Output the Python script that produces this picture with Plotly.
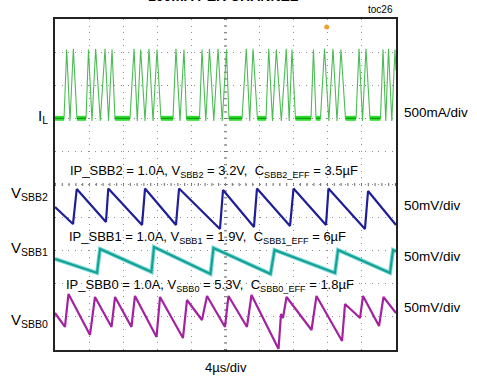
import plotly.graph_objects as go

# ---------------- data ----------------
# time in microseconds (4 us/div, 10 div)
il_time = [0.00, 1.06, 1.37, 1.76, 2.15, 2.58, 3.64, 3.93, 4.34, 4.77,
           5.31, 5.87, 6.28, 6.69, 7.04, 8.80, 9.27, 9.65, 10.05, 10.56,
           11.03, 11.50, 11.97, 12.43, 13.84, 14.19, 14.66, 15.13, 15.43, 16.95,
           17.24, 17.69, 18.12, 18.63, 19.12, 19.62, 20.12, 20.41, 21.94, 22.44,
           22.84, 23.23, 23.75, 24.75, 25.07, 25.51, 25.96, 26.55, 27.13, 27.47,
           27.80, 28.21, 30.03, 30.32, 30.62, 31.14, 31.61, 32.12, 32.61, 33.08,
           33.55, 34.08, 35.31, 35.66, 36.07, 36.48, 36.95, 38.18, 38.48, 38.80,
           39.12, 39.51, 39.88, 40.00]
# inductor current in A (500 mA/div)
il_amp = [0.00, 0.00, 1.04, -0.04, 1.05, -0.01, 0.00, 1.04, -0.04, 1.05,
          -0.04, 1.05, -0.04, 1.04, -0.01, 0.00, 1.05, -0.04, 1.04, -0.04,
          1.05, -0.04, 1.04, -0.01, 0.00, 1.05, -0.04, 1.04, -0.01, 0.00,
          1.04, -0.04, 1.05, -0.04, 1.05, -0.04, 1.04, -0.01, 0.00, 1.05,
          -0.04, 1.05, -0.01, 0.00, 1.05, -0.04, 1.04, -0.04, 1.05, -0.04,
          1.04, -0.01, 0.00, 1.04, -0.01, 0.00, 1.05, -0.04, 1.05, -0.04,
          1.04, -0.01, 0.00, 1.05, -0.04, 1.05, -0.01, 0.00, 1.04, -0.04,
          1.05, -0.04, 1.04, 0.72]
# idle (flat) intervals of the inductor current, us
il_flat_start = [0.00, 2.58, 7.04, 12.43, 15.43, 20.41, 23.75, 28.21, 30.62, 34.08, 36.95]
il_flat_end = [1.06, 3.64, 8.80, 13.84, 16.95, 21.94, 24.75, 30.03, 31.14, 35.31, 38.18]

# output ripple voltages, mV (AC, 50 mV/div)
sbb2_time = [0.00, 2.11, 2.55, 5.98, 6.25, 10.21, 10.56, 14.19, 14.55, 19.35,
             19.71, 23.34, 23.69, 27.57, 27.98, 31.79, 32.08, 36.36, 36.72, 40.00]
sbb2_mv = [0.0, -25.7, 27.2, -22.7, 27.9, -27.2, 27.9, -27.2, 27.9, -33.2,
           25.7, -30.2, 27.9, -28.7, 27.9, -27.2, 27.9, -33.2, 24.2, -27.2]

sbb1_time = [0.00, 4.93, 5.28, 11.32, 11.61, 18.24, 18.59, 25.28, 25.75, 32.84,
             33.20, 39.30, 39.65, 40.00]
sbb1_mv = [3.0, -18.1, 18.1, -16.6, 21.1, -19.6, 19.6, -19.6, 16.6, -18.1,
           16.6, -18.1, 16.6, 14.3]

sbb0_time = [0.00, 1.17, 1.58, 4.11, 4.69, 6.63, 7.04, 8.97, 9.38, 11.91,
             12.32, 15.01, 15.48, 17.24, 17.83, 19.94, 20.35, 22.52, 23.05, 26.22,
             26.51, 26.74, 27.16, 30.09, 30.67, 33.67, 34.02, 35.78, 36.13, 38.01,
             38.53, 40.00]
sbb0_mv = [0.0, -21.1, 28.7, -33.2, 24.2, -21.1, 24.2, -21.1, 25.7, -36.3,
           24.2, -37.8, 19.6, -10.6, 25.7, -21.1, 25.7, -21.1, 27.2, -54.4,
           -1.5, -7.6, 24.2, -25.7, 25.7, -42.3, 13.6, -7.6, 25.7, -19.6,
           24.2, 0.0]

trigger_time = [31.87]
trigger_amp = [1.38]

FONT = "Liberation Sans, Arial, sans-serif"

# ---------------- figure ----------------
fig = go.Figure()

flat_x, flat_y = [], []
for s, e in zip(il_flat_start, il_flat_end):
    flat_x += [s, e, None]
    flat_y += [0.0, 0.0, None]

fig.add_trace(go.Scatter(x=il_time, y=il_amp, mode="lines", yaxis="y",
                         line=dict(color="#4dbb55", width=1.1), hoverinfo="skip"))
fig.add_trace(go.Scatter(x=flat_x, y=flat_y, mode="lines", yaxis="y",
                         line=dict(color="#2fe02f", width=5), hoverinfo="skip"))
fig.add_trace(go.Scatter(x=flat_x, y=flat_y, mode="lines", yaxis="y",
                         line=dict(color="#129612", width=1.2), hoverinfo="skip"))

fig.add_trace(go.Scatter(x=sbb2_time, y=sbb2_mv, mode="lines", yaxis="y2",
                         line=dict(color="#1e1e98", width=2.2), hoverinfo="skip"))
fig.add_trace(go.Scatter(x=sbb1_time, y=sbb1_mv, mode="lines", yaxis="y3",
                         line=dict(color="#74d8d1", width=4), hoverinfo="skip"))
fig.add_trace(go.Scatter(x=sbb1_time, y=sbb1_mv, mode="lines", yaxis="y3",
                         line=dict(color="#159f96", width=2), hoverinfo="skip"))
fig.add_trace(go.Scatter(x=sbb0_time, y=sbb0_mv, mode="lines", yaxis="y4",
                         line=dict(color="#a3229f", width=2.2), hoverinfo="skip"))
fig.add_trace(go.Scatter(x=trigger_time, y=trigger_amp, mode="markers", yaxis="y",
                         marker=dict(color="#f0a030", size=5, symbol="circle"),
                         hoverinfo="skip"))

grid = dict(showgrid=True, gridcolor="#8f8f8f", gridwidth=1, griddash="1px,5.6px",
            showticklabels=False, ticks="", zeroline=False, showline=True,
            mirror=True, linecolor="#222222", linewidth=2)

fig.update_layout(
    width=477, height=381,
    margin=dict(l=55, r=81, t=19, b=31),
    paper_bgcolor="white", plot_bgcolor="white",
    showlegend=False,
    xaxis=dict(range=[0, 40], dtick=4, tick0=0, **grid),
    yaxis=dict(range=[-3.5, 1.5], dtick=0.5, tick0=0, **grid),
    yaxis2=dict(range=[-216, 284], overlaying="y", visible=False),
    yaxis3=dict(range=[-134.5, 365.5], overlaying="y", visible=False),
    yaxis4=dict(range=[-55.9, 444.1], overlaying="y", visible=False),
    shapes=[
        dict(type="line", xref="x", yref="paper", x0=20, x1=20, y0=0, y1=1,
             line=dict(color="#666666", width=3, dash="1px,5.6px"), layer="below"),
        dict(type="line", xref="paper", yref="y", x0=0, x1=1, y0=-1.0, y1=-1.0,
             line=dict(color="#666666", width=3, dash="1px,5.8px"), layer="below"),
    ],
)

def ann(text, x, y, xa="left", ya="middle", size=13, bold=False, color="black"):
    fig.add_annotation(text=("<b>%s</b>" % text) if bold else text,
                       xref="paper", yref="paper", x=x, y=y,
                       xanchor=xa, yanchor=ya, showarrow=False,
                       font=dict(family=FONT, size=size, color=color))

# clipped title at the top of the picture
ann("100mA PER CHANNEL", 0.494, 1.039, xa="center", ya="bottom", size=14, bold=True)
ann("toc26", 0.997, 1.030, xa="right", size=10)

# left channel names
ann("I<sub>L</sub>", -0.015, 0.704, xa="right", size=15)
ann("V<sub>SBB2</sub>", -0.015, 0.474, xa="right", size=15)
ann("V<sub>SBB1</sub>", -0.015, 0.308, xa="right", size=15)
ann("V<sub>SBB0</sub>", -0.015, 0.089, xa="right", size=15)

# right scale labels
ann("500mA/div", 1.0176, 0.717, size=13.5)
ann("50mV/div", 1.0176, 0.436, size=13.5)
ann("50mV/div", 1.0176, 0.281, size=13.5)
ann("50mV/div", 1.0176, 0.128, size=13.5)

# inner condition labels
ann("IP_SBB2 = 1.0A, V<sub>SBB2</sub> = 3.2V,  C<sub>SBB2_EFF</sub> = 3.5µF", 0.038, 0.538)
ann("IP_SBB1 = 1.0A, V<sub>SBB1</sub> = 1.9V,  C<sub>SBB1_EFF</sub> = 6µF", 0.035, 0.341)
ann("IP_SBB0 = 1.0A, V<sub>SBB0</sub> = 5.3V,  C<sub>SBB0_EFF</sub> = 1.8µF", 0.026, 0.195)

# time scale
ann("4µs/div", 0.501, -0.054, xa="center")

fig.write_html("out.html")
